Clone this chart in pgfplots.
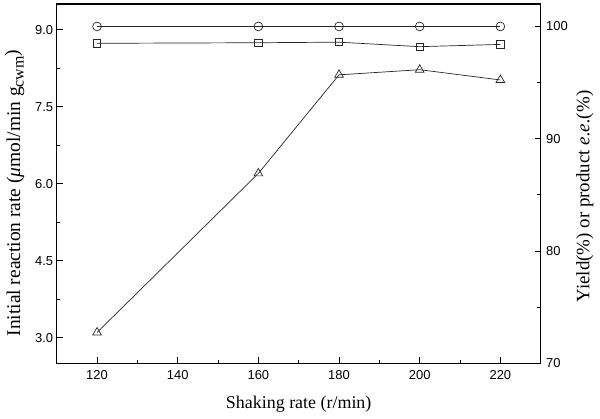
\documentclass[border=0pt]{standalone}
\usepackage{pgfplots}
\pgfplotsset{compat=1.18}
\usepackage{fontspec}
\setmainfont{Liberation Serif}
\newfontfamily\arial{Liberation Sans}
\begin{document}
\begin{tikzpicture}
\useasboundingbox (-56.7bp,-55.7bp) rectangle (543.3bp,363.3bp);
\pgfplotsset{
  common/.style={
    at={(0,0)}, anchor=south west,
    width=484bp, height=359.3bp, scale only axis,
    xmin=110, xmax=230,
    tick align=inside,
    major tick length=6bp, minor tick length=3.5bp,
    axis line style={line width=1.2bp},
    every tick/.style={black, line width=1bp},
    tick label style={font=\arial\fontsize{13}{13}\selectfont},
    /pgf/number format/assume math mode=true,
    clip=false,
  },
  dat/.style={black!85, line width=0.7bp, mark options={fill=white, solid, line width=0.7bp}},
}
\begin{axis}[common,
  ymin=2.5, ymax=9.5,
  xtick={120,140,...,220}, minor x tick num=1,
  ytick={3,4.5,6,7.5,9}, minor y tick num=1,
  xtick pos=bottom, ytick pos=left,
  x tick label style={yshift=-4bp},
  y tick label style={/pgf/number format/.cd, fixed, fixed zerofill, precision=1},
  xlabel={Shaking rate (r/min)},
  ylabel={Initial reaction rate (\textit{μ}mol/min g\raisebox{-3.5bp}{\fontsize{16}{16}\selectfont cwm}\raisebox{2bp}{)}},
  xlabel style={at={(axis description cs:0.5,-0.114)}, anchor=center, font=\fontsize{18}{18}\selectfont},
  ylabel style={at={(axis description cs:-0.087,0.474)}, anchor=center, font=\fontsize{19.5}{19.5}\selectfont},
]
\addplot[dat, mark=triangle, mark size=5bp] coordinates {(120,3.1) (160,6.2) (180,8.12) (200,8.22) (220,8.02)};
\end{axis}
\begin{axis}[common,
  ymin=70, ymax=102,
  axis x line=none, axis y line*=right,
  y axis line style={-},
  ytick={70,80,90,100}, minor y tick num=1,
  y tick label style={xshift=2bp},
  ylabel={Yield(\%) or product \textit{e.e.}(\%)},
  ylabel style={at={(axis description cs:1.091,0.464)}, anchor=center, rotate=0, font=\fontsize{19}{19}\selectfont},
]
\addplot[dat, mark=o, mark size=4.4bp] coordinates {(120,100) (160,100) (180,100) (200,100) (220,100)};
\addplot[dat, mark=square, mark size=3.6bp] coordinates {(120,98.5) (160,98.55) (180,98.6) (200,98.2) (220,98.4)};
\end{axis}
\end{tikzpicture}
\end{document}
